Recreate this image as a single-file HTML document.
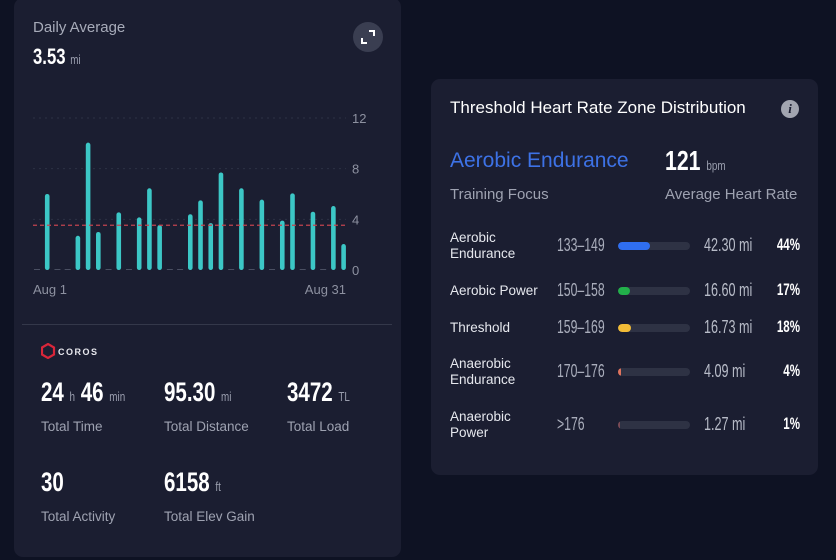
<!DOCTYPE html>
<html><head><meta charset="utf-8"><style>
body{margin:0;width:836px;height:560px;background:#0e1223;position:relative;overflow:hidden;font-family:"Liberation Sans",sans-serif;}
.card{position:absolute;background:#1b1e31;border-radius:9px;}
.t{position:absolute;white-space:nowrap;}
.n{font-weight:bold;color:#fff;transform:scaleX(.76);transform-origin:left center;}
.u{color:#9a9eae;font-size:13px;font-weight:normal;}
.lbl{color:#9ea2b1;font-size:13.5px;}
.zn{color:#e6e8ee;font-size:13.5px;line-height:16px;}
.rng{color:#a9adbb;font-size:18px;transform:scaleX(.68);transform-origin:left center;}
.dist{color:#b8bcc8;font-size:18px;transform:scaleX(.7);transform-origin:left center;}
.pct{color:#fff;font-weight:bold;font-size:17px;text-align:right;width:40px;transform:scaleX(.68);transform-origin:right center;}
</style></head><body>
<div class="card" style="left:14px;top:-2px;width:387px;height:559px;"></div>
<div class="t" style="left:33px;top:19px;color:#a7abb9;font-size:15px;">Daily Average</div>
<div class="t n" style="left:33px;top:44px;font-size:22px;">3.53 <span class="u">mi</span></div>
<div style="position:absolute;left:353px;top:22px;width:30px;height:30px;border-radius:50%;background:#3a3e51;">
<svg width="30" height="30" viewBox="0 0 30 30"><path d="M16 9h5v5M9 16v5h5" stroke="#fff" stroke-width="2" fill="none"/></svg></div>
<svg id="chart" style="position:absolute;left:0;top:0" width="420" height="300"></svg>
<div style="position:absolute;left:22px;top:324px;width:370px;height:1px;background:#34384a"></div>
<div style="position:absolute;left:41px;top:343px;">
<svg width="70" height="16"><polygon points="7,1 13,4.5 13,11.5 7,15 1,11.5 1,4.5" fill="none" stroke="#d9263a" stroke-width="2.2"/><text x="17" y="12" fill="#e8e8ee" font-size="9" font-family="Liberation Sans" font-weight="bold" letter-spacing="1.5">COROS</text></svg></div>
<div class="t n" style="left:41px;top:377px;font-size:27px;">24 <span class="u">h</span> 46 <span class="u">min</span></div>
<div class="t lbl" style="left:41px;top:419px;">Total Time</div>
<div class="t n" style="left:164px;top:377px;font-size:27px;">95.30 <span class="u">mi</span></div>
<div class="t lbl" style="left:164px;top:419px;">Total Distance</div>
<div class="t n" style="left:287px;top:377px;font-size:27px;">3472 <span class="u">TL</span></div>
<div class="t lbl" style="left:287px;top:419px;">Total Load</div>
<div class="t n" style="left:41px;top:467px;font-size:27px;">30</div>
<div class="t lbl" style="left:41px;top:509px;">Total Activity</div>
<div class="t n" style="left:164px;top:467px;font-size:27px;">6158 <span class="u">ft</span></div>
<div class="t lbl" style="left:164px;top:509px;">Total Elev Gain</div>

<div class="card" style="left:431px;top:79px;width:387px;height:396px;"></div>
<div class="t" style="left:450px;top:98px;color:#fff;font-size:17px;">Threshold Heart Rate Zone Distribution</div>
<div style="position:absolute;left:781px;top:100px;width:18px;height:18px;border-radius:50%;background:#a2a5b0;color:#1b1e31;font:italic bold 13px 'Liberation Serif',serif;text-align:center;line-height:18px;">i</div>
<div class="t" style="left:450px;top:149px;color:#3d72e6;font-size:21px;">Aerobic Endurance</div>
<div class="t lbl" style="left:450px;top:186px;font-size:15px;">Training Focus</div>
<div class="t n" style="left:665px;top:145px;font-size:28px;">121 <span class="u">bpm</span></div>
<div class="t lbl" style="left:665px;top:186px;font-size:15px;">Average Heart Rate</div>
<div id="zones"></div>
<script>
const days=[1,2,3,4,5,6,7,8,9,10,11,12,13,14,15,16,17,18,19,20,21,22,23,24,25,26,27,28,29,30,31];
const miles=[0,6.0,0,0,2.7,10.05,3.0,0,4.55,0,4.15,6.45,3.55,0,0,4.4,5.5,3.7,7.7,0,6.45,0,5.55,0,3.9,6.05,0,4.6,0,5.05,2.05];
const yTicks=[0,4,8,12];
const avgMiles=3.53;
const ns="http://www.w3.org/2000/svg";
const svg=document.getElementById('chart');
const x=d=>37+(d-1)*10.22, y=v=>270-v*12.67;
function mk(t,a){const e=document.createElementNS(ns,t);for(const k in a)e.setAttribute(k,a[k]);svg.appendChild(e);return e;}
yTicks.forEach(v=>{
 if(v){const l=mk('line',{x1:33,x2:346,y1:y(v),y2:y(v),stroke:'#2d3245','stroke-dasharray':'2 4'});
 
 }
 const t=mk('text',{x:352,y:y(v)+5,fill:'#8d91a0','font-size':13,'font-family':'Liberation Sans'});t.textContent=v;
 
 
});
days.forEach((d,i)=>{
 const v=miles[i];
 if(v>0){const r=mk('rect',{x:x(d)-2.3,y:y(v),width:4.6,height:v*12.67,rx:2.3,fill:'#3cc7c6'});
 
 }
 else{const s=mk('line',{x1:x(d)-3,x2:x(d)+3,y1:269.5,y2:269.5,stroke:'#4a4f62','stroke-width':1});
 
 }
});
const a=mk('line',{x1:33,x2:346,y1:y(avgMiles),y2:y(avgMiles),stroke:'#c2434f','stroke-width':1.2,'stroke-dasharray':'4 3'});


[['Aug 1',33,'start'],['Aug 31',346,'end']].forEach(([s,px,an])=>{const t=mk('text',{x:px,y:294,fill:'#8d91a0','font-size':13,'font-family':'Liberation Sans','text-anchor':an});t.textContent=s;
 
 });

const zoneNames=[["Aerobic","Endurance"],["Aerobic Power"],["Threshold"],["Anaerobic","Endurance"],["Anaerobic","Power"]];
const zoneRanges=["133–149","150–158","159–169","170–176",">176"];
const zoneDist=["42.30 mi","16.60 mi","16.73 mi","4.09 mi","1.27 mi"];
const zonePct=[44,17,18,4,1];
const zoneColors=['#2f6ef0','#22b04a','#f2bc37','#e0735d','#7a4a55'];
const rowY=[246,291,328,372,425];
const zc=document.getElementById('zones');
zoneNames.forEach((nm,i)=>{
 const cy=rowY[i];
 const n=document.createElement('div');n.className='t zn';n.style.left='450px';n.style.top=(cy-nm.length*8)+'px';n.innerHTML=nm.join('<br>');
 
 zc.appendChild(n);
 const r=document.createElement('div');r.className='t rng';r.style.left='557px';r.style.top=(cy-11)+'px';r.textContent=zoneRanges[i];
 
 zc.appendChild(r);
 const tr=document.createElement('div');tr.style.cssText='position:absolute;left:618px;top:'+(cy-4)+'px;width:72px;height:8px;border-radius:4px;background:#2e3244;overflow:hidden';
 
 
 const f=document.createElement('div');f.style.cssText='height:8px;border-radius:4px;background:'+zoneColors[i]+';width:'+Math.max(2,zonePct[i]/100*72)+'px';
 
 tr.appendChild(f);zc.appendChild(tr);
 const d=document.createElement('div');d.className='t dist';d.style.left='704px';d.style.top=(cy-11)+'px';d.textContent=zoneDist[i];
 
 zc.appendChild(d);
 const p=document.createElement('div');p.className='t pct';p.style.left='760px';p.style.top=(cy-11)+'px';p.textContent=zonePct[i]+'%';
 
 zc.appendChild(p);
});
</script>
</body></html>
